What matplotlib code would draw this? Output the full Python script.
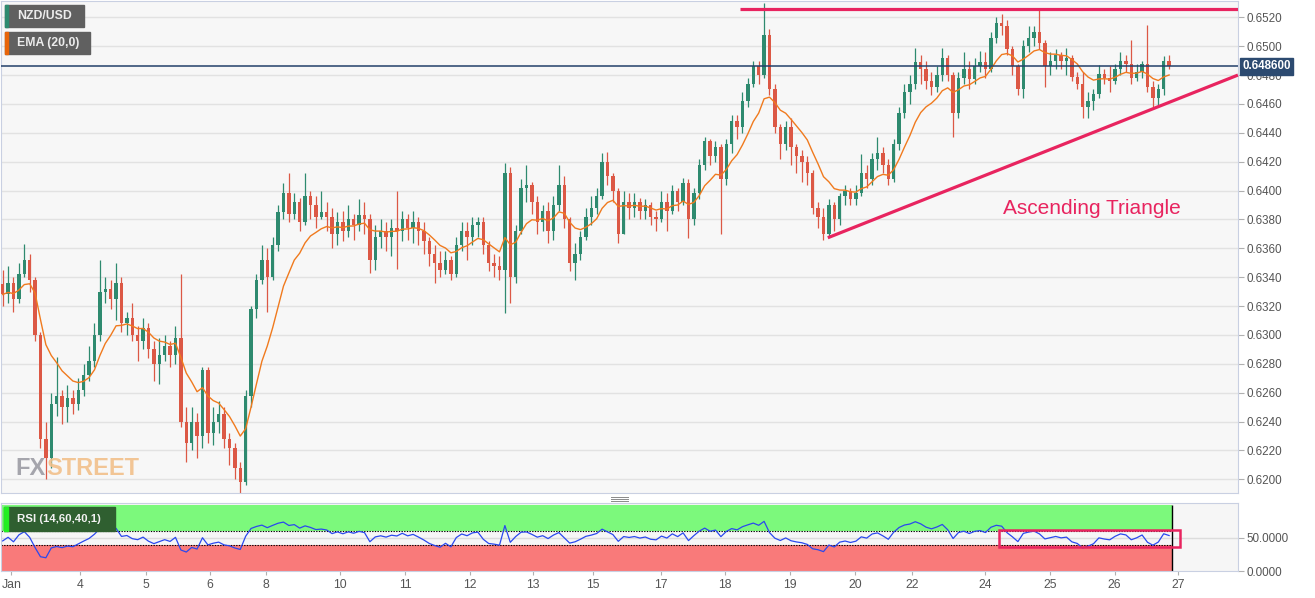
import numpy as np
import pandas as pd
import matplotlib
matplotlib.use("Agg")
import matplotlib.pyplot as plt
from matplotlib.patches import Rectangle
from matplotlib.lines import Line2D

plt.rcParams['font.family'] = ['Liberation Sans', 'DejaVu Sans']

# ---------------- data (2-hour bars, NZD/USD) ----------------
first_open = 0.6335
close = [
    0.6328, 0.6336, 0.6325, 0.6342, 0.6352, 0.6338, 0.6300, 0.6228, 0.6215, 0.6252,
    0.6258, 0.6250, 0.6256, 0.6252, 0.6262, 0.6272, 0.6282, 0.6300, 0.6330, 0.6332,
    0.6325, 0.6336, 0.6308, 0.6312, 0.6300, 0.6296, 0.6305, 0.6290, 0.6280, 0.6286,
    0.6292, 0.6286, 0.6298, 0.6240, 0.6225, 0.6240, 0.6230, 0.6276, 0.6232, 0.6240,
    0.6245, 0.6228, 0.6222, 0.6208, 0.6198, 0.6258, 0.6318, 0.6338, 0.6352, 0.6340,
    0.6362, 0.6385, 0.6398, 0.6384, 0.6392, 0.6378, 0.6396, 0.6390, 0.6382, 0.6385,
    0.6382, 0.6370, 0.6378, 0.6372, 0.6380, 0.6376, 0.6383, 0.6380, 0.6352, 0.6368,
    0.6372, 0.6368, 0.6374, 0.6372, 0.6380, 0.6374, 0.6378, 0.6372, 0.6365, 0.6356,
    0.6350, 0.6345, 0.6352, 0.6342, 0.6362, 0.6372, 0.6368, 0.6376, 0.6378, 0.6362,
    0.6350, 0.6348, 0.6345, 0.6412, 0.6340, 0.6372, 0.6402, 0.6404, 0.6392, 0.6378,
    0.6386, 0.6372, 0.6390, 0.6404, 0.6380, 0.6350, 0.6356, 0.6368, 0.6382, 0.6388,
    0.6396, 0.6420, 0.6410, 0.6400, 0.6370, 0.6392, 0.6388, 0.6392, 0.6386, 0.6390,
    0.6382, 0.6380, 0.6392, 0.6386, 0.6400, 0.6392, 0.6405, 0.6380, 0.6398, 0.6418,
    0.6434, 0.6424, 0.6430, 0.6408, 0.6432, 0.6448, 0.6444, 0.6462, 0.6474, 0.6486,
    0.6480, 0.6508, 0.6470, 0.6444, 0.6432, 0.6444, 0.6430, 0.6424, 0.6420, 0.6412,
    0.6388, 0.6382, 0.6370, 0.6390, 0.6380, 0.6396, 0.6400, 0.6394, 0.6398, 0.6412,
    0.6408, 0.6422, 0.6426, 0.6418, 0.6408, 0.6432, 0.6454, 0.6468, 0.6474, 0.6489,
    0.6484, 0.6476, 0.6472, 0.6480, 0.6492, 0.6480, 0.6454, 0.6478, 0.6484, 0.6477,
    0.6486, 0.6489, 0.6484, 0.6506, 0.6516, 0.6514, 0.6498, 0.6486, 0.6470, 0.6500,
    0.6506, 0.6510, 0.6502, 0.6486, 0.6490, 0.6494, 0.6490, 0.6492, 0.6479, 0.6474,
    0.6458, 0.6462, 0.6467, 0.6481, 0.6478, 0.6476, 0.6484, 0.6490, 0.6488, 0.6478,
    0.6482, 0.6488, 0.6472, 0.6464, 0.6470, 0.6490, 0.6486]
high = [
    0.6345, 0.6348, 0.6340, 0.6350, 0.6363, 0.6356, 0.6340, 0.6302, 0.6240, 0.6260,
    0.6285, 0.6262, 0.6265, 0.6262, 0.6270, 0.6280, 0.6292, 0.6308, 0.6352, 0.6340,
    0.6338, 0.6350, 0.6340, 0.6316, 0.6322, 0.6306, 0.6312, 0.6308, 0.6296, 0.6298,
    0.6300, 0.6296, 0.6306, 0.6342, 0.6250, 0.6250, 0.6246, 0.6278, 0.6278, 0.6250,
    0.6254, 0.6250, 0.6232, 0.6225, 0.6212, 0.6262, 0.6320, 0.6342, 0.6362, 0.6360,
    0.6368, 0.6390, 0.6405, 0.6412, 0.6398, 0.6395, 0.6412, 0.6400, 0.6396, 0.6400,
    0.6392, 0.6388, 0.6385, 0.6386, 0.6390, 0.6384, 0.6394, 0.6392, 0.6384, 0.6376,
    0.6380, 0.6378, 0.6380, 0.6400, 0.6386, 0.6384, 0.6386, 0.6382, 0.6378, 0.6368,
    0.6362, 0.6358, 0.6358, 0.6355, 0.6368, 0.6378, 0.6378, 0.6382, 0.6382, 0.6382,
    0.6365, 0.6356, 0.6355, 0.6419, 0.6416, 0.6376, 0.6408, 0.6418, 0.6406, 0.6396,
    0.6390, 0.6392, 0.6396, 0.6418, 0.6410, 0.6382, 0.6364, 0.6372, 0.6388, 0.6396,
    0.6402, 0.6426, 0.6427, 0.6412, 0.6402, 0.6400, 0.6398, 0.6398, 0.6395, 0.6394,
    0.6392, 0.6386, 0.6400, 0.6398, 0.6404, 0.6402, 0.6409, 0.6408, 0.6402, 0.6422,
    0.6437, 0.6436, 0.6434, 0.6432, 0.6436, 0.6452, 0.6452, 0.6468, 0.6478, 0.6490,
    0.6490, 0.6530, 0.6512, 0.6474, 0.6446, 0.6448, 0.6450, 0.6432, 0.6428, 0.6424,
    0.6414, 0.6392, 0.6388, 0.6394, 0.6392, 0.6398, 0.6404, 0.6402, 0.6404, 0.6425,
    0.6418, 0.6426, 0.6437, 0.6430, 0.6422, 0.6436, 0.6458, 0.6474, 0.6480, 0.6499,
    0.6494, 0.6490, 0.6482, 0.6486, 0.6499, 0.6494, 0.6482, 0.6482, 0.6496, 0.6490,
    0.6492, 0.6497, 0.6496, 0.6510, 0.6520, 0.6522, 0.6518, 0.6500, 0.6488, 0.6504,
    0.6514, 0.6514, 0.6526, 0.6504, 0.6496, 0.6498, 0.6496, 0.6499, 0.6494, 0.6482,
    0.6482, 0.6468, 0.6470, 0.6487, 0.6484, 0.6486, 0.6488, 0.6496, 0.6494, 0.6504,
    0.6488, 0.6490, 0.6515, 0.6476, 0.6474, 0.6493, 0.6494]
low = [
    0.6320, 0.6322, 0.6316, 0.6322, 0.6340, 0.6330, 0.6296, 0.6222, 0.6200, 0.6208,
    0.6244, 0.6238, 0.6240, 0.6245, 0.6248, 0.6258, 0.6268, 0.6278, 0.6296, 0.6322,
    0.6318, 0.6310, 0.6302, 0.6300, 0.6296, 0.6282, 0.6290, 0.6284, 0.6268, 0.6266,
    0.6282, 0.6278, 0.6280, 0.6236, 0.6212, 0.6220, 0.6215, 0.6222, 0.6225, 0.6224,
    0.6232, 0.6222, 0.6210, 0.6200, 0.6190, 0.6196, 0.6250, 0.6312, 0.6335, 0.6316,
    0.6338, 0.6358, 0.6380, 0.6378, 0.6380, 0.6372, 0.6376, 0.6380, 0.6374, 0.6380,
    0.6372, 0.6360, 0.6362, 0.6365, 0.6368, 0.6366, 0.6372, 0.6370, 0.6343, 0.6345,
    0.6360, 0.6358, 0.6355, 0.6346, 0.6365, 0.6366, 0.6364, 0.6362, 0.6356, 0.6348,
    0.6336, 0.6340, 0.6342, 0.6338, 0.6340, 0.6358, 0.6352, 0.6362, 0.6368, 0.6356,
    0.6344, 0.6340, 0.6338, 0.6315, 0.6322, 0.6336, 0.6370, 0.6392, 0.6384, 0.6370,
    0.6372, 0.6364, 0.6366, 0.6386, 0.6374, 0.6344, 0.6338, 0.6352, 0.6366, 0.6376,
    0.6384, 0.6394, 0.6404, 0.6392, 0.6364, 0.6370, 0.6380, 0.6382, 0.6380, 0.6380,
    0.6376, 0.6372, 0.6378, 0.6372, 0.6384, 0.6386, 0.6390, 0.6367, 0.6376, 0.6394,
    0.6414, 0.6418, 0.6420, 0.6370, 0.6404, 0.6426, 0.6436, 0.6440, 0.6458, 0.6472,
    0.6474, 0.6478, 0.6466, 0.6440, 0.6422, 0.6428, 0.6418, 0.6412, 0.6406, 0.6404,
    0.6384, 0.6374, 0.6366, 0.6368, 0.6372, 0.6376, 0.6390, 0.6390, 0.6390, 0.6396,
    0.6402, 0.6404, 0.6414, 0.6412, 0.6404, 0.6406, 0.6428, 0.6450, 0.6460, 0.6470,
    0.6474, 0.6470, 0.6466, 0.6468, 0.6476, 0.6476, 0.6437, 0.6450, 0.6474, 0.6470,
    0.6474, 0.6482, 0.6478, 0.6482, 0.6502, 0.6508, 0.6494, 0.6480, 0.6466, 0.6464,
    0.6496, 0.6500, 0.6498, 0.6472, 0.6480, 0.6484, 0.6484, 0.6480, 0.6476, 0.6470,
    0.6450, 0.6450, 0.6456, 0.6464, 0.6474, 0.6468, 0.6474, 0.6480, 0.6482, 0.6474,
    0.6476, 0.6478, 0.6468, 0.6458, 0.6458, 0.6466, 0.6484]

last_price = 0.6486
day_labels = ['Jan', '4', '5', '6', '8', '10', '11', '12', '13', '15',
              '17', '18', '19', '20', '22', '24', '25', '26', '27']
day_ticks = [1.6, 14.3, 26.5, 38.4, 48.8, 62.5, 74.5, 86.5, 98.2, 109.3,
             121.9, 133.8, 145.8, 157.8, 168.4, 181.9, 193.9, 205.9, 217.6]
price_ticks = [0.6200, 0.6220, 0.6240, 0.6260, 0.6280, 0.6300, 0.6320, 0.6340,
               0.6360, 0.6380, 0.6400, 0.6420, 0.6440, 0.6460, 0.6480, 0.6500, 0.6520]
resistance_level = 0.6526
resistance_from = 136.5
support_pts = ([152.8, 228.75], [0.63673, 0.6480])
rsi_box = (184.5, 36.4, 218.0, 62.1)
rsi_period = 10
rsi_seed = 0.0004   # initial average gain / loss

# ---------------- derived ----------------
c = np.array(close)
h = np.array(high)
l = np.array(low)
o = np.concatenate([[first_open], c[:-1]])
x = np.arange(len(c))
ema = pd.Series(c).ewm(span=10, adjust=False).mean().values

d = np.diff(c, prepend=first_open)
ag, al = rsi_seed, rsi_seed
rsi = []
for dv in d:
    ag = (ag * (rsi_period - 1) + max(dv, 0)) / rsi_period
    al = (al * (rsi_period - 1) + max(-dv, 0)) / rsi_period
    rsi.append(100 * ag / (ag + al))
rsi = np.array(rsi)

# ---------------- figure ----------------
W, H = 1315, 598
fig = plt.figure(figsize=(W / 100, H / 100), dpi=100, facecolor='white')

def fbox(x0, y0, x1, y1):
    return [x0 / W, 1 - y1 / H, (x1 - x0) / W, (y1 - y0) / H]

GREEN = '#2e8a6f'
RED = '#dc5845'
SPINE = '#c9d0e2'
PINK = '#e8245f'
xlim = (-0.31, 228.76)

ax = fig.add_axes(fbox(1, 1, 1238, 493))
ax.set_facecolor('#f7f7f7')
ax.set_xlim(*xlim)
ax.set_ylim(0.61905, 0.65313)
ax.set_yticks(price_ticks)
ax.yaxis.set_major_formatter(matplotlib.ticker.FormatStrFormatter('%.4f'))
ax.yaxis.tick_right()
ax.tick_params(axis='y', length=4, color='#b0b0b0', labelcolor='#555555',
               labelsize=8.4, pad=2)
ax.tick_params(axis='x', bottom=False, labelbottom=False)
ax.grid(axis='y', color='#e2e2e2', lw=1)
ax.set_axisbelow(True)
for s in ax.spines.values():
    s.set_color(SPINE)

# candles
up_mask = c >= o
cols = np.where(up_mask, GREEN, RED)
body_lo = np.minimum(o, c)
body_h = np.maximum(np.abs(c - o), 0.00004)
ax.vlines(x, np.minimum(l, body_lo), np.maximum(h, np.maximum(o, c)),
          colors=cols, lw=0.9, zorder=2)
ax.bar(x, body_h, bottom=body_lo, width=0.62, color=cols, lw=0, zorder=3)
ax.plot(x, ema, color='#f07a1e', lw=1.0, zorder=4)

# annotations
ax.axhline(last_price, color='#23406a', lw=1.1, zorder=5)
ax.hlines(resistance_level, resistance_from, xlim[1], color=PINK, lw=2.3, zorder=6)
ax.plot(support_pts[0], support_pts[1], color=PINK, lw=2.3, zorder=6,
        solid_capstyle='butt', clip_on=False)
ax.text(185.2, 0.63838, 'Ascending Triangle', color=PINK, fontsize=15,
        ha='left', va='baseline', zorder=7)
ax.text(1.0035, last_price, '0.648600', transform=ax.get_yaxis_transform(),
        ha='left', va='center', color='white', fontsize=8.3, fontweight='bold',
        bbox=dict(boxstyle='square,pad=0.22', fc='#2c4a70', ec='#2c4a70'),
        clip_on=False, zorder=10)

# watermark
fx_txt = fig.text(15 / W, 1 - 475 / H, 'FX', color='#9c9ca4', fontsize=17,
                  fontweight='bold', alpha=0.9, ha='left', va='baseline', zorder=0.5)
fig.add_artist(matplotlib.text.Annotation(
    'STREET', xy=(1, 0), xycoords=fx_txt, xytext=(1, 0), textcoords='offset points',
    color='#f2c08a', fontsize=17, fontweight='bold', alpha=0.9,
    ha='left', va='bottom', zorder=0.5))

# legend boxes
def label_box(x0, y0, x1, y1, strip, fc, text):
    fig.add_artist(Rectangle((x0 / W, 1 - y1 / H), (x1 - x0) / W, (y1 - y0) / H,
                             transform=fig.transFigure, color=fc, zorder=8))
    fig.add_artist(Rectangle((x0 / W, 1 - y1 / H), 3 / W, (y1 - y0) / H,
                             transform=fig.transFigure, color=strip, zorder=9))
    fig.text((x0 + 12) / W, 1 - (y0 + y1) / 2 / H, text, color='#ececec',
             fontsize=8.8, fontweight='bold', ha='left', va='center', zorder=10)

label_box(5, 5, 84, 27, GREEN, '#606060', 'NZD/USD')
label_box(5, 32, 90, 54, '#e8650a', '#606060', 'EMA (20,0)')

# divider grip
for yy in (496.5, 498.5, 500.5):
    fig.add_artist(Line2D([611 / W, 628 / W], [1 - yy / H] * 2, color='#8a8a8a',
                          lw=0.7, transform=fig.transFigure))

# ---------------- RSI panel ----------------
rx = fig.add_axes(fbox(1, 503, 1238, 571))
rx.set_facecolor('#f6f6f6')
rx.set_xlim(*xlim)
rx.set_ylim(0, 103)
x_end = 216.5
rx.add_patch(Rectangle((xlim[0], 60), x_end - xlim[0], 40, color='#7cf97c', lw=0, zorder=1))
rx.add_patch(Rectangle((xlim[0], 0), x_end - xlim[0], 40, color='#f97a7a', lw=0, zorder=1))
rx.axhline(50, color='#dcdcdc', lw=1, zorder=1.5)
rx.hlines([40, 60], xlim[0], x_end, colors='black', linestyles=(0, (1.2, 1.2)),
          lw=0.8, zorder=2)
rx.vlines(x_end, 0, 100, colors='black', lw=1, zorder=2)
rx.plot(x, rsi, color='#2a48ee', lw=0.9, zorder=3)
rx.add_patch(Rectangle((rsi_box[0], rsi_box[1]), rsi_box[2] - rsi_box[0],
                       rsi_box[3] - rsi_box[1], fill=False, ec=PINK, lw=1.8,
                       zorder=5, clip_on=False))
rx.yaxis.tick_right()
rx.set_yticks([0, 50])
rx.set_yticklabels(['0.0000', '50.0000'])
rx.set_xticks(day_ticks)
rx.set_xticklabels(day_labels)
rx.tick_params(axis='y', length=4, color='#b0b0b0', labelcolor='#555555',
               labelsize=8.4, pad=2)
rx.tick_params(axis='x', length=3, color='#b0b0b0', labelcolor='#555555',
               labelsize=8.8, pad=3)
for s in rx.spines.values():
    s.set_color(SPINE)

fig.add_artist(Rectangle((4 / W, 1 - 531 / H), 111 / W, 24 / H,
                         transform=fig.transFigure, color='#2f5f30', zorder=8))
fig.add_artist(Rectangle((4 / W, 1 - 531 / H), 3.5 / W, 24 / H,
                         transform=fig.transFigure, color='#22ee22', zorder=9))
fig.text(17 / W, 1 - 519 / H, 'RSI (14,60,40,1)', color='#f2f2f2', fontsize=8.2,
         fontweight='bold', ha='left', va='center', zorder=10)

fig.savefig('out.png', dpi=100, facecolor='white')
